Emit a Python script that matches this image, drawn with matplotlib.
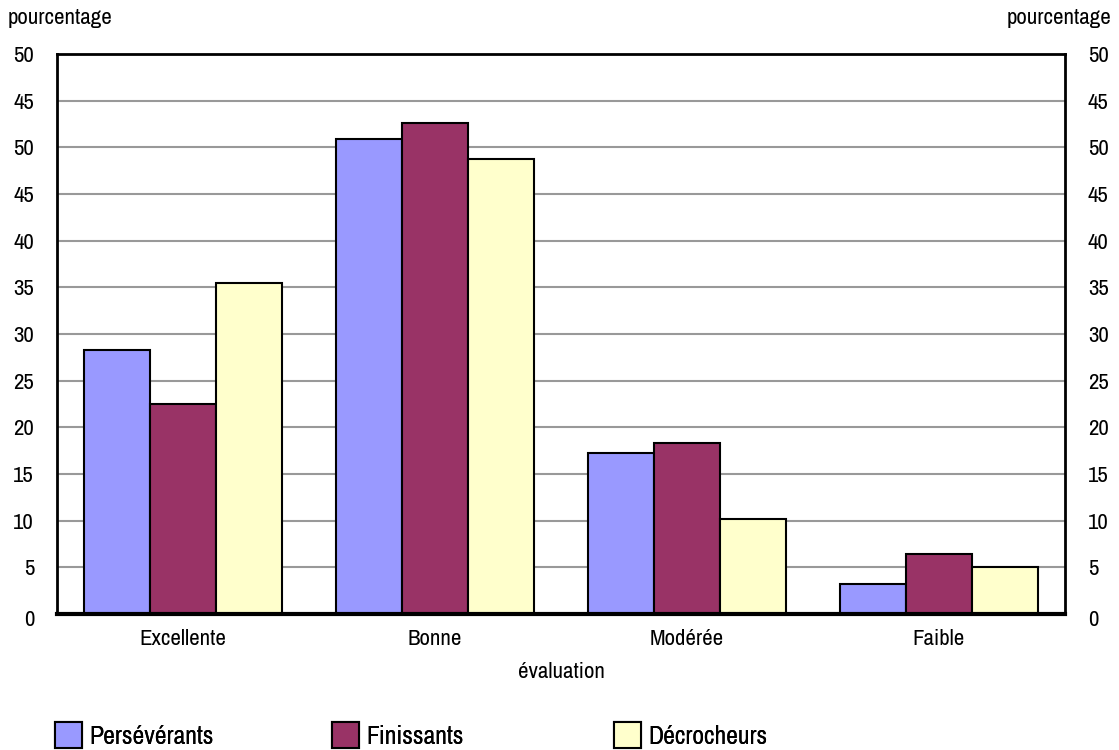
import matplotlib.pyplot as plt
from matplotlib import font_manager
from matplotlib.patches import Patch
import matplotlib.transforms as mtransforms
import numpy as np

# pick a narrow face if one is installed
names = sorted(set(f.name for f in font_manager.fontManager.ttflist))
narrow = [n for n in names if 'Narrow' in n or 'Condensed' in n]
plt.rcParams['font.family'] = narrow[:1] + ['Roboto', 'DejaVu Sans']

# data
categories = ['Excellente', 'Bonne', 'Modérée', 'Faible']
perseverants = [28.3, 50.9, 17.2, 3.2]
finissants = [22.5, 52.6, 18.3, 6.4]
decrocheurs = [35.5, 48.75, 10.2, 5.05]
series_names = ['Persévérants', 'Finissants', 'Décrocheurs']
colors = ['#9999FF', '#993366', '#FFFFCC']

# tick positions and the (odd) labels printed on the axis
tick_pos = np.arange(0, 61, 5)
tick_labels = ['0', '5', '10', '15', '20', '25', '30', '35', '40', '45', '50', '45', '50']

fs = 16.5

fig = plt.figure(figsize=(11.19, 7.5), dpi=100)
ax = fig.add_axes([57/1119, 1 - 614/750, (1065 - 57)/1119, (614 - 54)/750])

x = np.arange(len(categories))
w = 66 / 252
for i, vals in enumerate([perseverants, finissants, decrocheurs]):
    ax.bar(x + (i - 1) * w, vals, width=w, color=colors[i], edgecolor='black',
           linewidth=1.5, label=series_names[i], zorder=3)

ax.set_xlim(-0.5, 3.5)
ax.set_ylim(0, 60)
ax.set_yticks(tick_pos)
ax.set_yticklabels(tick_labels)
ax.tick_params(axis='y', length=0, pad=16.5, labelsize=fs, labelright=True)
ax.tick_params(axis='x', length=0, pad=11, labelsize=fs)
ax.set_xticks(x)
ax.set_xticklabels(categories)

# the "0" labels sit a little below the axis line
zero_tick = ax.yaxis.get_major_ticks()[0]
shift = mtransforms.ScaledTranslation(0, -3/72, fig.dpi_scale_trans)
zero_tick.label1.set_transform(zero_tick.label1.get_transform() + shift)
zero_tick.label2.set_transform(zero_tick.label2.get_transform() + shift)

# gridlines (skip 0 and the top)
for t in tick_pos[1:-1]:
    ax.axhline(t, color='#999999', linewidth=1.5, zorder=1)

for s in ['left', 'right', 'top']:
    ax.spines[s].set_linewidth(2)
ax.spines['bottom'].set_linewidth(3)
ax.spines['bottom'].set_zorder(4)

ax.set_xlabel('évaluation', fontsize=fs, labelpad=9)

fig.text(8/1119, 1 - 18/750, 'pourcentage', fontsize=fs, va='center', ha='left')
fig.text(1111/1119, 1 - 18/750, 'pourcentage', fontsize=fs, va='center', ha='right')

# legend entries placed one by one
leg_x = [55, 332, 614]
for i in range(3):
    h = Patch(facecolor=colors[i], edgecolor='black', linewidth=1.5)
    lg = fig.legend([h], [series_names[i]], loc='center left',
                    bbox_to_anchor=(leg_x[i]/1119, 1 - 735/750), frameon=False,
                    fontsize=18.5, handlelength=1.05, handleheight=1.15,
                    handletextpad=0.3, borderpad=0, borderaxespad=0)
    fig.add_artist(lg)

fig.savefig('out.png', dpi=100)
